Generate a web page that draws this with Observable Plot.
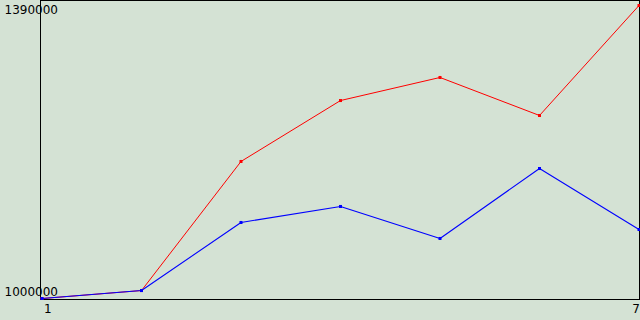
<!DOCTYPE html>
<html>
<head>
<meta charset="utf-8">
<script src="https://cdn.jsdelivr.net/npm/d3@7"></script>
<script src="https://cdn.jsdelivr.net/npm/@observablehq/plot@0.6"></script>
<style>
  html, body { margin: 0; padding: 0; background: #d4e2d4; }
  #chart { width: 640px; height: 320px; overflow: hidden; }
  svg { display: block; }
</style>
</head>
<body>
<div id="chart"></div>
<script>
const xValues = [1, 2, 3, 4, 5, 6, 7];
const redValues = [1000000, 1010600, 1182400, 1263500, 1294200, 1243600, 1390000];
const blueValues = [1000000, 1010600, 1101200, 1122500, 1079900, 1173000, 1091800];
const yTickTop = 1390000;
const yTickBottom = 1000000;
const xTickFirst = 1;
const xTickLast = 7;

const red = xValues.map((x, i) => ({x, y: redValues[i]}));
const blue = xValues.map((x, i) => ({x, y: blueValues[i]}));

const font = "DejaVu Sans, sans-serif";

const chart = Plot.plot({
  width: 640,
  height: 320,
  marginLeft: 40,
  marginRight: 1,
  marginTop: 0,
  marginBottom: 21,
  style: {background: "#d4e2d4", fontFamily: font, fontSize: "12px", color: "black"},
  x: {domain: [1, 7], range: [41.5, 638.5], label: null},
  y: {domain: [1000000, 1390000], range: [298, 5], label: null},
  marks: [
    Plot.frame({stroke: "black", strokeWidth: 1}),
    Plot.line(red, {x: "x", y: "y", stroke: "#ff0000", strokeWidth: 1}),
    Plot.dot(red, {x: "x", y: "y", symbol: "square", r: 1.7, fill: "#ff0000", stroke: "none"}),
    Plot.line(blue, {x: "x", y: "y", stroke: "#0000ff", strokeWidth: 1.1}),
    Plot.dot(blue, {x: "x", y: "y", symbol: "square", r: 1.7, fill: "#0000ff", stroke: "none"}),
    Plot.axisY({ticks: [yTickTop], tickFormat: d => String(d), label: null, tickSize: 0, tickPadding: 0, textAnchor: "start", dx: -36, dy: 5, fill: "black", fontSize: 12}),
    Plot.axisY({ticks: [yTickBottom], tickFormat: d => String(d), label: null, tickSize: 0, tickPadding: 0, textAnchor: "start", dx: -36, dy: -6, fill: "black", fontSize: 12}),
    Plot.axisX({ticks: [xTickFirst], tickFormat: d => String(d), label: null, tickSize: 0, tickPadding: 5, textAnchor: "start", dx: 2, fill: "black", fontSize: 12}),
    Plot.axisX({ticks: [xTickLast], tickFormat: d => String(d), label: null, tickSize: 0, tickPadding: 5, textAnchor: "end", dx: 1, fill: "black", fontSize: 12})
  ]
});
document.getElementById("chart").appendChild(chart);
</script>
</body>
</html>
